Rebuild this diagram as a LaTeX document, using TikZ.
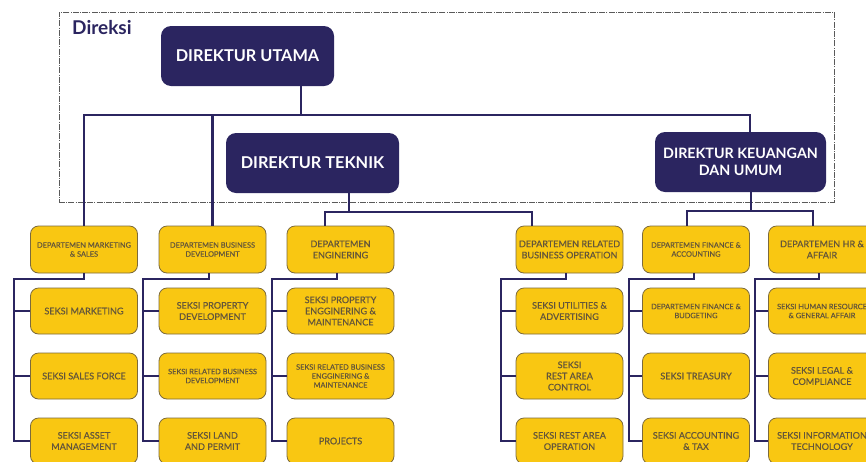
\documentclass[tikz,border=0pt]{standalone}
\usepackage{fontspec}
\setmainfont{Lato}
\newfontfamily\medfont{Lato}[FakeBold=0.6]
\definecolor{navy}{HTML}{2B2560}
\definecolor{gold}{HTML}{F9C712}
\definecolor{goldline}{HTML}{7C6A3C}
\definecolor{goldtext}{HTML}{64563A}
\definecolor{dashgray}{HTML}{5A5A5A}
\begin{document}
\begin{tikzpicture}[x=1pt,y=-1pt,
  dir/.style={draw=none, fill=navy, rounded corners=10pt, text=white, align=center, inner sep=0pt,
    font=\bfseries\fontsize{16.3}{18}\selectfont, minimum width=173pt, minimum height=60pt},
  unit/.style={draw=goldline, line width=0.8pt, fill=gold, rounded corners=8pt, text=goldtext,
    align=center, inner sep=0pt, minimum width=107pt, minimum height=46pt},
  big/.style={font=\medfont\fontsize{9.1}{11.2}\selectfont},
  small/.style={font=\medfont\fontsize{7.4}{9}\selectfont},
  link/.style={draw=navy, line width=2.4pt},
  frame/.style={draw=dashgray, line width=0.9pt, dash pattern=on 6pt off 1.2pt on 1pt off 1.2pt,
    inner sep=0pt, minimum width=775pt, minimum height=190pt},
]
\useasboundingbox (0,0) rectangle (866,461);
\clip (0,0) rectangle (866,461);
\fill[white] (0,0) rectangle (866,461);

% Direksi frame
\node[frame] (box) at (446.5,107) {};
\node[anchor=west, text=navy, font=\bfseries\fontsize{19}{22}\selectfont, inner sep=0pt] (lbl) at (72,28) {Direksi};

% directors
\node[dir] (du) at (247.5,56) {DIREKTUR UTAMA};
\node[dir] (dt) at (312.5,163) {DIREKTUR TEKNIK};
\node[dir, minimum width=171pt, font=\bfseries\fontsize{14.3}{17}\selectfont] (dku) at (740.5,162) {DIREKTUR KEUANGAN\\DAN UMUM};

% departments
\node[unit, small, minimum height=47pt] (d1) at (84,249.5) {DEPARTEMEN MARKETING\\\& SALES};
\node[unit, small, minimum height=47pt] (d2) at (212.5,249.5) {DEPARTEMEN BUSINESS\\DEVELOPMENT};
\node[unit, big, minimum height=47pt] (d3) at (340.5,249.5) {DEPARTEMEN\\ENGINERING};
\node[unit, big, minimum height=47pt] (d4) at (569.5,249.5) {DEPARTEMEN RELATED\\BUSINESS OPERATION};
\node[unit, small, minimum height=47pt] (d5) at (696,249.5) {DEPARTEMEN FINANCE \&\\ACCOUNTING};
\node[unit, big, minimum height=47pt] (d6) at (822,249.5) {DEPARTEMEN HR \&\\AFFAIR};

% sections column 1
\node[unit, big] (s11) at (84,311) {SEKSI MARKETING};
\node[unit, big] (s12) at (84,376) {SEKSI SALES FORCE};
\node[unit, big] (s13) at (84,441) {SEKSI ASSET\\MANAGEMENT};
% column 2
\node[unit, big] (s21) at (212.5,311) {SEKSI PROPERTY\\DEVELOPMENT};
\node[unit, small] (s22) at (212.5,376) {SEKSI RELATED BUSINESS\\DEVELOPMENT};
\node[unit, big] (s23) at (212.5,441) {SEKSI LAND\\AND PERMIT};
% column 3
\node[unit, big] (s31) at (340.5,311) {SEKSI PROPERTY\\ENGGINERING \&\\MAINTENANCE};
\node[unit, small] (s32) at (340.5,376) {SEKSI RELATED BUSINESS\\ENGGINERING \&\\MAINTENANCE};
\node[unit, big] (s33) at (340.5,441) {PROJECTS};
% column 4
\node[unit, big] (s41) at (569.5,311) {SEKSI UTILITIES \&\\ADVERTISING};
\node[unit, big] (s42) at (569.5,376) {SEKSI\\REST AREA\\CONTROL};
\node[unit, big] (s43) at (569.5,441) {SEKSI REST AREA\\OPERATION};
% column 5
\node[unit, small] (s51) at (696,311) {DEPARTEMEN FINANCE \&\\BUDGETING};
\node[unit, big] (s52) at (696,376) {SEKSI TREASURY};
\node[unit, big] (s53) at (696,441) {SEKSI ACCOUNTING\\\& TAX};
% column 6
\node[unit, small] (s61) at (822,311) {SEKSI HUMAN RESOURCE\\\& GENERAL AFFAIR};
\node[unit, big] (s62) at (822,376) {SEKSI LEGAL \&\\COMPLIANCE};
\node[unit, big] (s63) at (822,441) {SEKSI INFORMATION\\TECHNOLOGY};

% connectors: Direktur Utama
\coordinate (t1) at (301,115);
\coordinate (hL) at (84,115);
\coordinate (hR) at (750,115);
\draw[link] (du.south -| t1) -- (t1);
\draw[link] (d1.north) -- (hL) -- (hR) -- (hR |- dku.north);
\draw[link] (d2.north) -- (d2.north |- hL);

% Direktur Teknik
\coordinate (tt) at (349,212);
\coordinate (a3) at (325,212);
\coordinate (a4) at (532,212);
\draw[link] (dt.south -| tt) -- (tt);
\draw[link] (a3 |- d3.north) -- (a3) -- (a4) -- (a4 |- d4.north);

% Direktur Keuangan
\coordinate (tk) at (751,211);
\coordinate (a5) at (687,211);
\coordinate (a6) at (813,211);
\draw[link] (dku.south -| tk) -- (tk);
\draw[link] (a5 |- d5.north) -- (a5) -- (a6) -- (a6 |- d6.north);

% departments to sections
\foreach \c/\bx/\lx in {1/84/14, 2/209/143, 3/337/272, 4/566/501, 5/694/629, 6/819/755} {
  \coordinate (b\c) at (\bx,279);
  \coordinate (l\c) at (\lx,279);
  \draw[link] (d\c.south -| b\c) -- (b\c) -- (l\c) -- (l\c |- s\c3.west) -- (s\c3.west);
  \draw[link] (l\c |- s\c1.west) -- (s\c1.west);
  \draw[link] (l\c |- s\c2.west) -- (s\c2.west);
}
\end{tikzpicture}
\end{document}
